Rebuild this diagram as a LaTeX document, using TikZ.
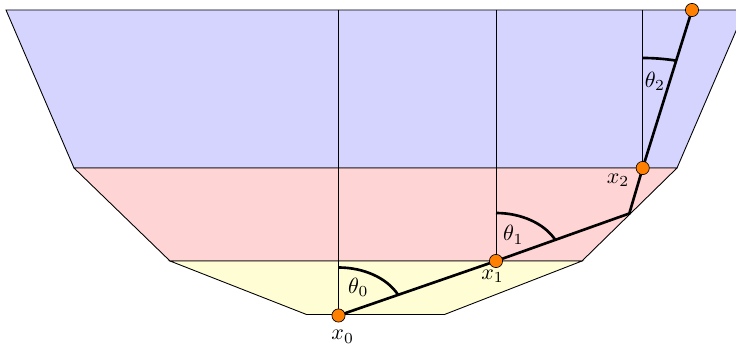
\documentclass[tikz,border=0pt]{standalone}
\begin{document}
\begin{tikzpicture}[x=0.4545pt,y=0.4545pt,
  layer/.style={draw=black,line width=0.4pt},
  normalline/.style={draw=black,line width=0.4pt},
  rayline/.style={draw=black,line width=1.2pt},
  angarc/.style={draw=black,line width=1.2pt},
  dotnode/.style={circle,fill=orange,draw=black,line width=0.3pt,inner sep=0pt,minimum size=6pt},
  lbl/.style={inner sep=0pt}]
\clip (0,0) rectangle (736,347);
% layers
\path[layer,fill=blue!17] (6,337) -- (745,337) -- (677,179) -- (74,179) -- cycle;
\path[layer,fill=red!17] (74,179) -- (677,179) -- (582,86) -- (170,86) -- cycle;
\path[layer,fill=yellow!17] (170,86) -- (582,86) -- (444.5,32.5) -- (306.5,32.5) -- cycle;
% points
\coordinate (p0) at (338.5,31.5);
\coordinate (p1) at (496,86);
\coordinate (pk) at (629.3,133.5);
\coordinate (p2) at (642.7,179);
\coordinate (p3) at (692,337);
\coordinate (t0) at (338.5,337);
\coordinate (t1) at (496,337);
\coordinate (t2) at (642.7,337);
% normals
\draw[normalline] (t0) -- (p0);
\draw[normalline] (t1) -- (p1);
\draw[normalline] (t2) -- (p2);
% ray
\draw[rayline] (p0) -- (p1) -- (pk) -- (p2) -- (p3);
% angle arcs
\draw[angarc] (p0) ++(0,48) arc[start angle=90,end angle=25.6,x radius=30pt,y radius=21.8pt];
\draw[angarc] (p1) ++(0,48) arc[start angle=90,end angle=26.1,x radius=30pt,y radius=21.8pt];
\draw[angarc] (p2) ++(0,110) arc[start angle=90,end angle=77.4,x radius=70pt,y radius=50pt];
% dots
\node[dotnode] (d0) at (p0) {};
\node[dotnode] (d1) at (p1) {};
\node[dotnode] (d2) at (p2) {};
\node[dotnode] (d3) at (p3) {};
% labels
\node[lbl] (th0) at (358.3,59.7) {$\theta_0$};
\node[lbl] (th1) at (513.3,112) {$\theta_1$};
\node[lbl] (th2) at (655,265.3) {$\theta_2$};
\node[lbl] (lx0) at (342.7,10.3) {$x_0$};
\node[lbl] (lx1) at (492.5,70.5) {$x_1$};
\node[lbl] (lx2) at (618,167) {$x_2$};
\end{tikzpicture}
\end{document}
